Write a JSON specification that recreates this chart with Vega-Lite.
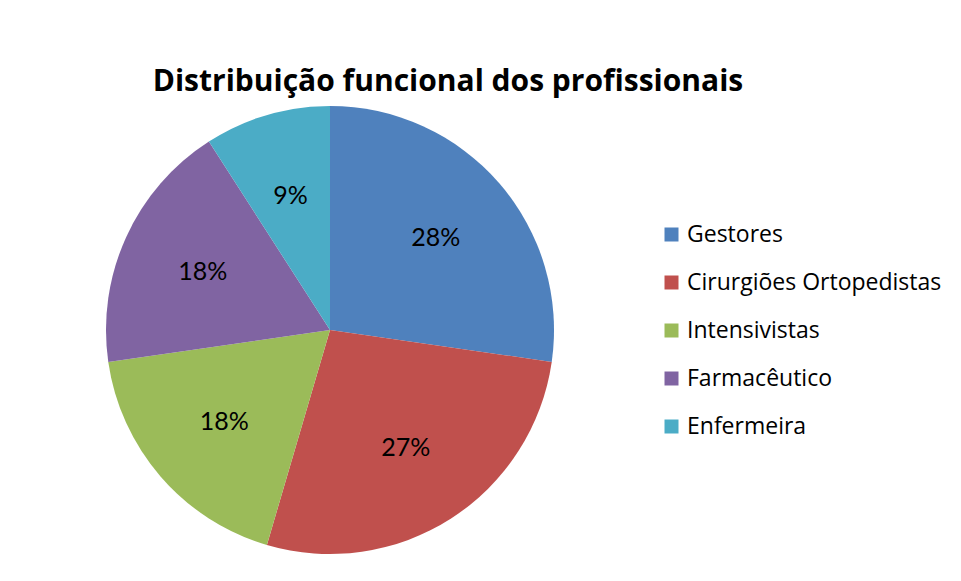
{
  "$schema": "https://vega.github.io/schema/vega-lite/v6.json",
  "width": 448,
  "height": 448,
  "autosize": {"type": "none"},
  "padding": {"left": 106, "top": 106, "right": 407, "bottom": 27},
  "background": "white",
  "title": {
    "text": "Distribuição funcional dos profissionais",
    "font": "Open Sans",
    "fontSize": 30,
    "fontWeight": "bold",
    "color": "#000000",
    "anchor": "middle",
    "baseline": "alphabetic",
    "dx": 118,
    "dy": 28,
    "offset": 13
  },
  "data": {
    "values": [
      {"categoria": "Gestores", "valor": 3, "rotulo": "28%", "ord": 1},
      {"categoria": "Cirurgiões Ortopedistas", "valor": 3, "rotulo": "27%", "ord": 2},
      {"categoria": "Intensivistas", "valor": 2, "rotulo": "18%", "ord": 3},
      {"categoria": "Farmacêutico", "valor": 2, "rotulo": "18%", "ord": 4},
      {"categoria": "Enfermeira", "valor": 1, "rotulo": "9%", "ord": 5}
    ]
  },
  "encoding": {
    "theta": {"field": "valor", "type": "quantitative", "stack": true},
    "order": {"field": "ord", "type": "quantitative"}
  },
  "layer": [
    {
      "mark": {"type": "arc", "radius": 224},
      "encoding": {
        "color": {
          "field": "categoria",
          "type": "nominal",
          "scale": {
            "domain": ["Gestores", "Cirurgiões Ortopedistas", "Intensivistas", "Farmacêutico", "Enfermeira"],
            "range": ["#4F81BD", "#C0504D", "#9BBB59", "#8064A2", "#4BACC6"]
          },
          "legend": {
            "title": null,
            "orient": "none",
            "legendX": 554,
            "legendY": 117,
            "padding": 0,
            "symbolType": "square",
            "symbolSize": 196,
            "symbolStrokeWidth": 0,
            "labelFont": "Open Sans",
            "labelFontSize": 23,
            "labelColor": "#000000",
            "labelOffset": 4,
            "rowPadding": 24,
            "labelLimit": 400
          }
        }
      }
    },
    {
      "mark": {"type": "text", "radius": 140, "font": "Lato", "fontSize": 25, "color": "#000000", "baseline": "middle", "align": "center"},
      "encoding": {
        "text": {"field": "rotulo", "type": "nominal"}
      }
    }
  ],
  "config": {"view": {"stroke": null}}
}
